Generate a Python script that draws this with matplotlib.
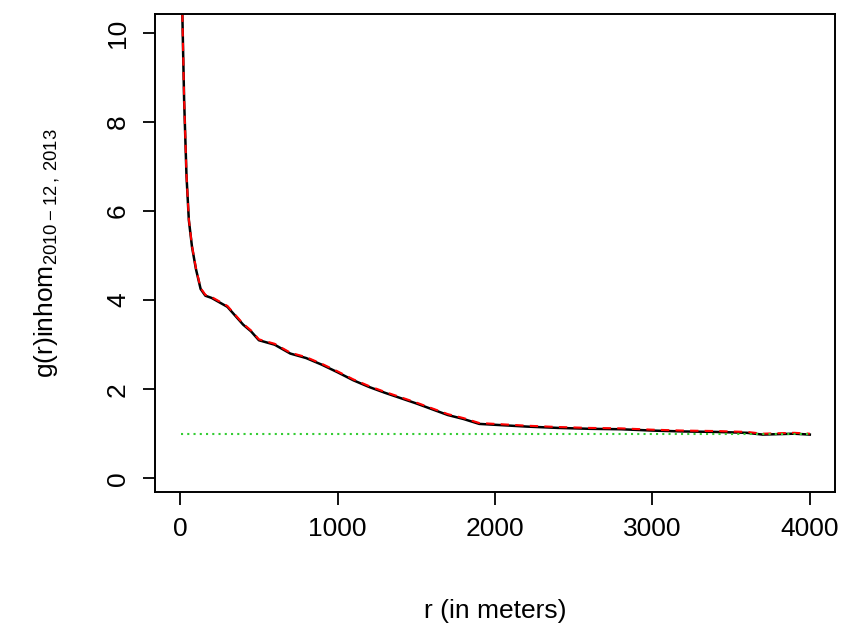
import matplotlib
matplotlib.use("Agg")
import matplotlib.pyplot as plt
plt.rcParams['font.family'] = ['Liberation Sans', 'DejaVu Sans']
plt.rcParams['mathtext.fontset'] = 'custom'
plt.rcParams['mathtext.rm'] = 'Liberation Sans'

r = [8, 15, 25, 40, 55, 75, 100, 130, 160, 200, 250, 300, 350, 400, 450, 500, 600, 700, 800, 900, 1000,
     1100, 1200, 1300, 1400, 1500, 1600, 1700, 1800, 1900, 2000, 2200, 2400, 2600, 2800, 3000, 3200,
     3400, 3600, 3700, 3800, 3900, 4000]
g_obs = [11.5, 10.2, 8.5, 6.8, 5.8, 5.2, 4.7, 4.25, 4.1, 4.05, 3.95, 3.85, 3.65, 3.45, 3.3, 3.1, 3.0, 2.8, 2.7,
         2.55, 2.38, 2.2, 2.05, 1.92, 1.8, 1.68, 1.55, 1.42, 1.33, 1.22, 1.2, 1.16, 1.13, 1.11, 1.1, 1.07,
         1.05, 1.04, 1.02, 0.98, 0.99, 1.0, 0.98]
g_trans = [v + 0.02 for v in g_obs]
g_theo = [1.0 for _ in r]

fig = plt.figure(figsize=(8.46, 6.39), dpi=100)
ax = fig.add_axes([155/846, 1-492/639, 680/846, 478/639])
ax.plot(r, g_obs, color='black', lw=1.8)
ax.plot(r, g_trans, color='red', lw=1.5, ls=(0, (4, 3)))
ax.plot(r, g_theo, color='#33cc33', lw=1.5, ls=(0, (1, 2)))
ax.set_xlim(-160, 4160)
ax.set_ylim(-0.31, 10.43)
ax.set_xticks([0, 1000, 2000, 3000, 4000])
ax.set_yticks([0, 2, 4, 6, 8, 10])
ax.tick_params(labelsize=19, length=9, width=1.3, pad=9)
for lab in ax.get_yticklabels():
    lab.set_rotation(90); lab.set_va('center')
for s in ax.spines.values():
    s.set_linewidth(1.4)
ax.set_xlabel('r (in meters)', fontsize=19, labelpad=42)
ax.set_ylabel(r'g(r)inhom$_{2010-12\,,\,2013}$', fontsize=19, labelpad=32)
fig.savefig('out.png', dpi=100)
